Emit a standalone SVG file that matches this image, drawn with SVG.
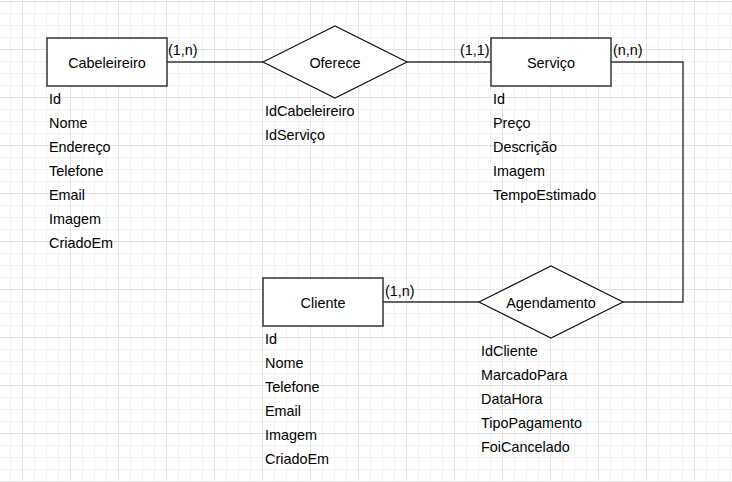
<svg xmlns="http://www.w3.org/2000/svg" width="732" height="482" viewBox="0 0 732 482">
<defs>
<pattern id="grid" patternUnits="userSpaceOnUse" x="22" y="1" width="48" height="48">
<path d="M12.5 0V48M24.5 0V48M36.5 0V48M0 12.5H48M0 24.5H48M0 36.5H48" stroke="#f2f2f2" stroke-width="1" fill="none"/>
<path d="M0.5 0V48M0 0.5H48" stroke="#e2e2e2" stroke-width="1" fill="none"/>
</pattern>
</defs>
<style>
.ent{fill:#fff;stroke:#333;stroke-width:1.5}
.rel{fill:#fff;stroke:#1a1a1a;stroke-width:1.3}
.edge{fill:none;stroke:#333;stroke-width:1.4}
text{font-family:"Liberation Sans",Arial,sans-serif;font-size:14.4px;fill:#000}
.c{text-anchor:middle}
</style>
<rect width="732" height="482" fill="#fff"/>
<rect width="732" height="482" fill="url(#grid)"/>
<g id="connectors">
<path class="edge" d="M167 62H263"/>
<path class="edge" d="M407 62H491"/>
<path class="edge" d="M611 62H683V302H623"/>
<path class="edge" d="M383 302H479"/>
<text x="168" y="55">(1,n)</text>
<text x="460" y="55">(1,1)</text>
<text x="613" y="55">(n,n)</text>
<text x="385" y="296">(1,n)</text>
</g>
<g id="cabeleireiro">
<rect class="ent" x="47" y="38" width="120" height="48"/>
<text class="c" x="107" y="68">Cabeleireiro</text>
<text x="49" y="104">Id</text>
<text x="49" y="128">Nome</text>
<text x="49" y="152">Endereço</text>
<text x="49" y="176">Telefone</text>
<text x="49" y="200">Email</text>
<text x="49" y="224">Imagem</text>
<text x="49" y="248">CriadoEm</text>
</g>
<g id="oferece">
<polygon class="rel" points="263,62 335,26 407,62 335,98"/>
<text class="c" x="335" y="68">Oferece</text>
<text x="265" y="116">IdCabeleireiro</text>
<text x="265" y="140">IdServiço</text>
</g>
<g id="servico">
<rect class="ent" x="491" y="38" width="120" height="48"/>
<text class="c" x="551" y="68">Serviço</text>
<text x="493" y="104">Id</text>
<text x="493" y="128">Preço</text>
<text x="493" y="152">Descrição</text>
<text x="493" y="176">Imagem</text>
<text x="493" y="200">TempoEstimado</text>
</g>
<g id="cliente">
<rect class="ent" x="263" y="278" width="120" height="48"/>
<text class="c" x="323" y="308">Cliente</text>
<text x="265" y="344">Id</text>
<text x="265" y="368">Nome</text>
<text x="265" y="392">Telefone</text>
<text x="265" y="416">Email</text>
<text x="265" y="440">Imagem</text>
<text x="265" y="464">CriadoEm</text>
</g>
<g id="agendamento">
<polygon class="rel" points="479,302 551,266 623,302 551,338"/>
<text class="c" x="551" y="308">Agendamento</text>
<text x="481" y="356">IdCliente</text>
<text x="481" y="380">MarcadoPara</text>
<text x="481" y="404">DataHora</text>
<text x="481" y="428">TipoPagamento</text>
<text x="481" y="452">FoiCancelado</text>
</g>
</svg>
